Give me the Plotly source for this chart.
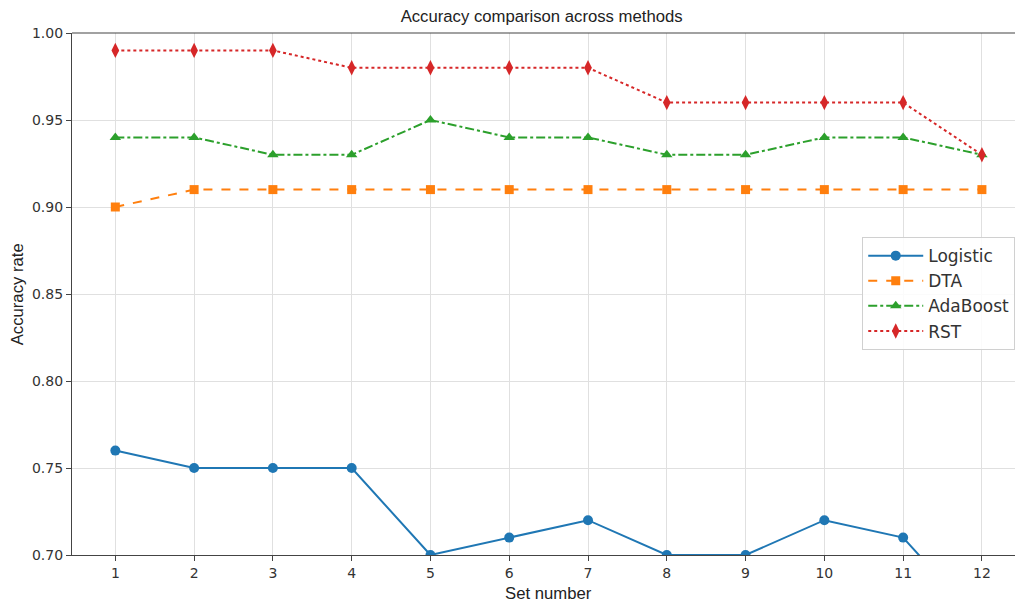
import plotly.graph_objects as go

sets = list(range(1, 13))
logistic = [0.76, 0.75, 0.75, 0.75, 0.70, 0.71, 0.72, 0.70, 0.70, 0.72, 0.71, 0.66]
dta = [0.90, 0.91, 0.91, 0.91, 0.91, 0.91, 0.91, 0.91, 0.91, 0.91, 0.91, 0.91]
adaboost = [0.94, 0.94, 0.93, 0.93, 0.95, 0.94, 0.94, 0.93, 0.93, 0.94, 0.94, 0.93]
rst = [0.99, 0.99, 0.99, 0.98, 0.98, 0.98, 0.98, 0.96, 0.96, 0.96, 0.96, 0.93]
y_ticks = [0.70, 0.75, 0.80, 0.85, 0.90, 0.95, 1.00]

fig = go.Figure()
series = [
    ("Logistic", logistic, "#1f77b4", "solid", "circle", 10),
    ("DTA", dta, "#ff7f0e", "dash", "square", 9),
    ("AdaBoost", adaboost, "#2ca02c", "dashdot", "triangle-up", 10),
    ("RST", rst, "#d62728", "dot", "diamond-tall", 11),
]
for name, vals, color, dash, sym, size in series:
    fig.add_trace(go.Scatter(
        x=sets, y=vals, name=name, mode="lines+markers",
        line=dict(color=color, width=2, dash=dash),
        marker=dict(symbol=sym, size=size, color=color),
    ))

axis_common = dict(
    showline=True, linecolor="#444", linewidth=1.2, mirror=False,
    ticks="outside", ticklen=5, tickcolor="#444", automargin=False,
    tickfont=dict(family="DejaVu Sans", size=14, color="#333"),
    showgrid=True, gridcolor="#e0e0e0", gridwidth=1, zeroline=False,
)
fig.update_xaxes(range=[0.45, 12.42], tickmode="array", tickvals=sets, **axis_common)
fig.update_yaxes(
    range=[0.70, 1.00], tickmode="array", tickvals=y_ticks,
    ticktext=[f"{v:.2f}" for v in y_ticks], **axis_common,
)
# top spine
fig.add_shape(type="line", xref="paper", yref="paper", x0=0, x1=1, y0=1, y1=1,
              line=dict(color="#444", width=1.2))

label_font = dict(family="Liberation Sans", size=16.7, color="#222")
fig.add_annotation(text="Set number", xref="paper", yref="paper", x=0.505, y=-0.0747,
                   xanchor="center", yanchor="middle", showarrow=False, font=label_font)
fig.add_annotation(text="Accuracy rate", xref="paper", yref="paper", x=-0.058, y=0.5,
                   xanchor="center", yanchor="middle", textangle=-90, showarrow=False,
                   font=label_font)

fig.update_layout(
    width=1015, height=606,
    margin=dict(l=72, r=0, t=33, b=51, autoexpand=False),
    paper_bgcolor="white", plot_bgcolor="white",
    title=dict(text="Accuracy comparison across methods", x=0.498, xanchor="center",
               xref="paper", y=0.974, yanchor="middle",
               font=dict(family="Liberation Sans", size=16.7, color="#222")),
    legend=dict(x=0.838, y=0.609, xanchor="left", yanchor="top",
                bgcolor="rgba(255,255,255,0.85)", bordercolor="#d0d0d0", borderwidth=1,
                font=dict(family="DejaVu Sans", size=17, color="#333"),
                tracegroupgap=2, itemwidth=55),
    showlegend=True,
)

fig.write_html(
    "out.html",
    config={"displayModeBar": False},
    post_script="document.body.style.margin='0';document.body.style.overflow='hidden';",
)
